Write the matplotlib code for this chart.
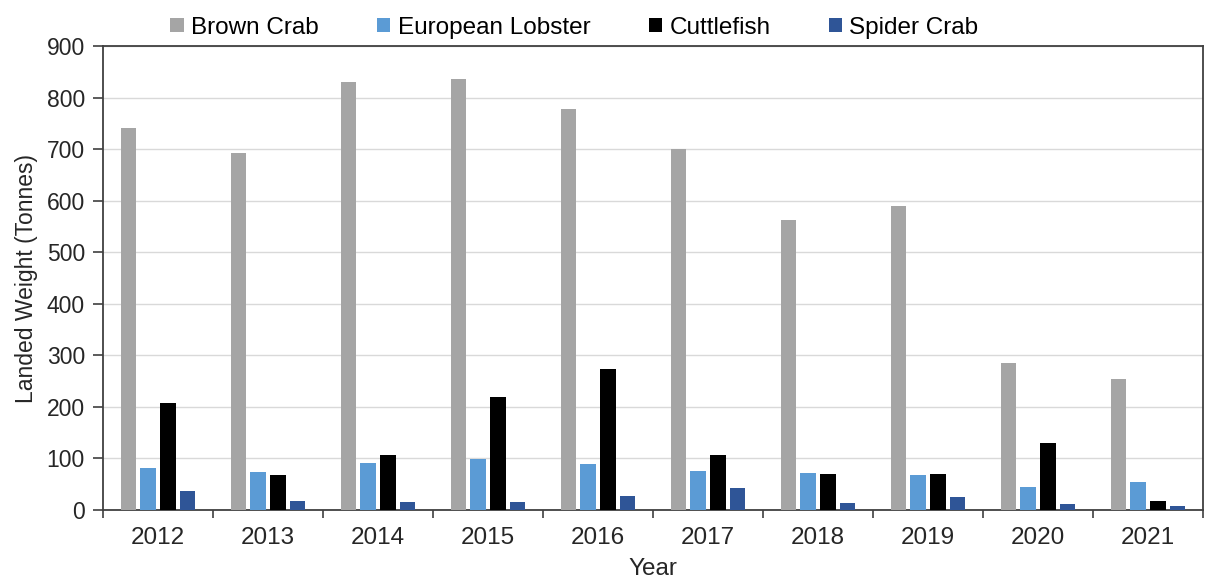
import numpy as np
import matplotlib.pyplot as plt

plt.rcParams['font.family'] = ['Liberation Sans', 'DejaVu Sans']

years = ['2012', '2013', '2014', '2015', '2016', '2017', '2018', '2019', '2020', '2021']
brown_crab = [741, 692, 830, 836, 778, 700, 562, 590, 286, 255]
lobster = [82, 74, 92, 99, 90, 76, 72, 68, 44, 55]
cuttlefish = [207, 67, 106, 219, 273, 106, 70, 70, 130, 17]
spider_crab = [37, 18, 16, 16, 28, 42, 14, 26, 12, 7]

series = [('Brown Crab', brown_crab, '#A5A5A5'),
          ('European Lobster', lobster, '#5B9BD5'),
          ('Cuttlefish', cuttlefish, '#000000'),
          ('Spider Crab', spider_crab, '#2F5597')]

fig = plt.figure(figsize=(12.06, 5.81), dpi=100)
ax = fig.add_axes([0.0854, 0.1222, 0.9121, 0.7986])

x = np.arange(len(years))
pitch = 0.18
width = 0.141
for i, (name, vals, col) in enumerate(series):
    ax.bar(x + (i - 1.5) * pitch, vals, width, color=col, label=name, zorder=3)

ax.set_xlim(-0.5, len(years) - 0.5)
ax.set_ylim(0, 900)
ax.set_yticks(range(0, 901, 100))
ax.yaxis.grid(True, color='#D9D9D9', lw=1, zorder=0)

# ticks between categories, labels at centres
ax.set_xticks(np.arange(len(years) + 1) - 0.5)
ax.set_xticklabels([])
ax.set_xticks(x, minor=True)
ax.set_xticklabels(years, minor=True)
ax.tick_params(axis='x', which='major', length=6, width=1.2, color='#404040')
ax.tick_params(axis='x', which='minor', length=0, pad=12, labelsize=17.5, labelcolor='#262626')
ax.tick_params(axis='y', length=7, width=1.2, color='#404040', labelsize=16.5, labelcolor='#262626', pad=6)

for s in ax.spines.values():
    s.set_color('#404040')
    s.set_linewidth(1.3)

ax.set_xlabel('Year', fontsize=17.5, color='#262626', labelpad=7)
ax.set_ylabel('Landed Weight (Tonnes)', fontsize=16.5, color='#262626', labelpad=6)

ax.legend(loc='lower center', bbox_to_anchor=(0.4286, 0.99), ncol=4, frameon=False,
          fontsize=17.5, handlelength=0.55, handleheight=0.55, handletextpad=0.3,
          columnspacing=2.4, borderaxespad=0.1)

fig.savefig('out.png', dpi=100)
